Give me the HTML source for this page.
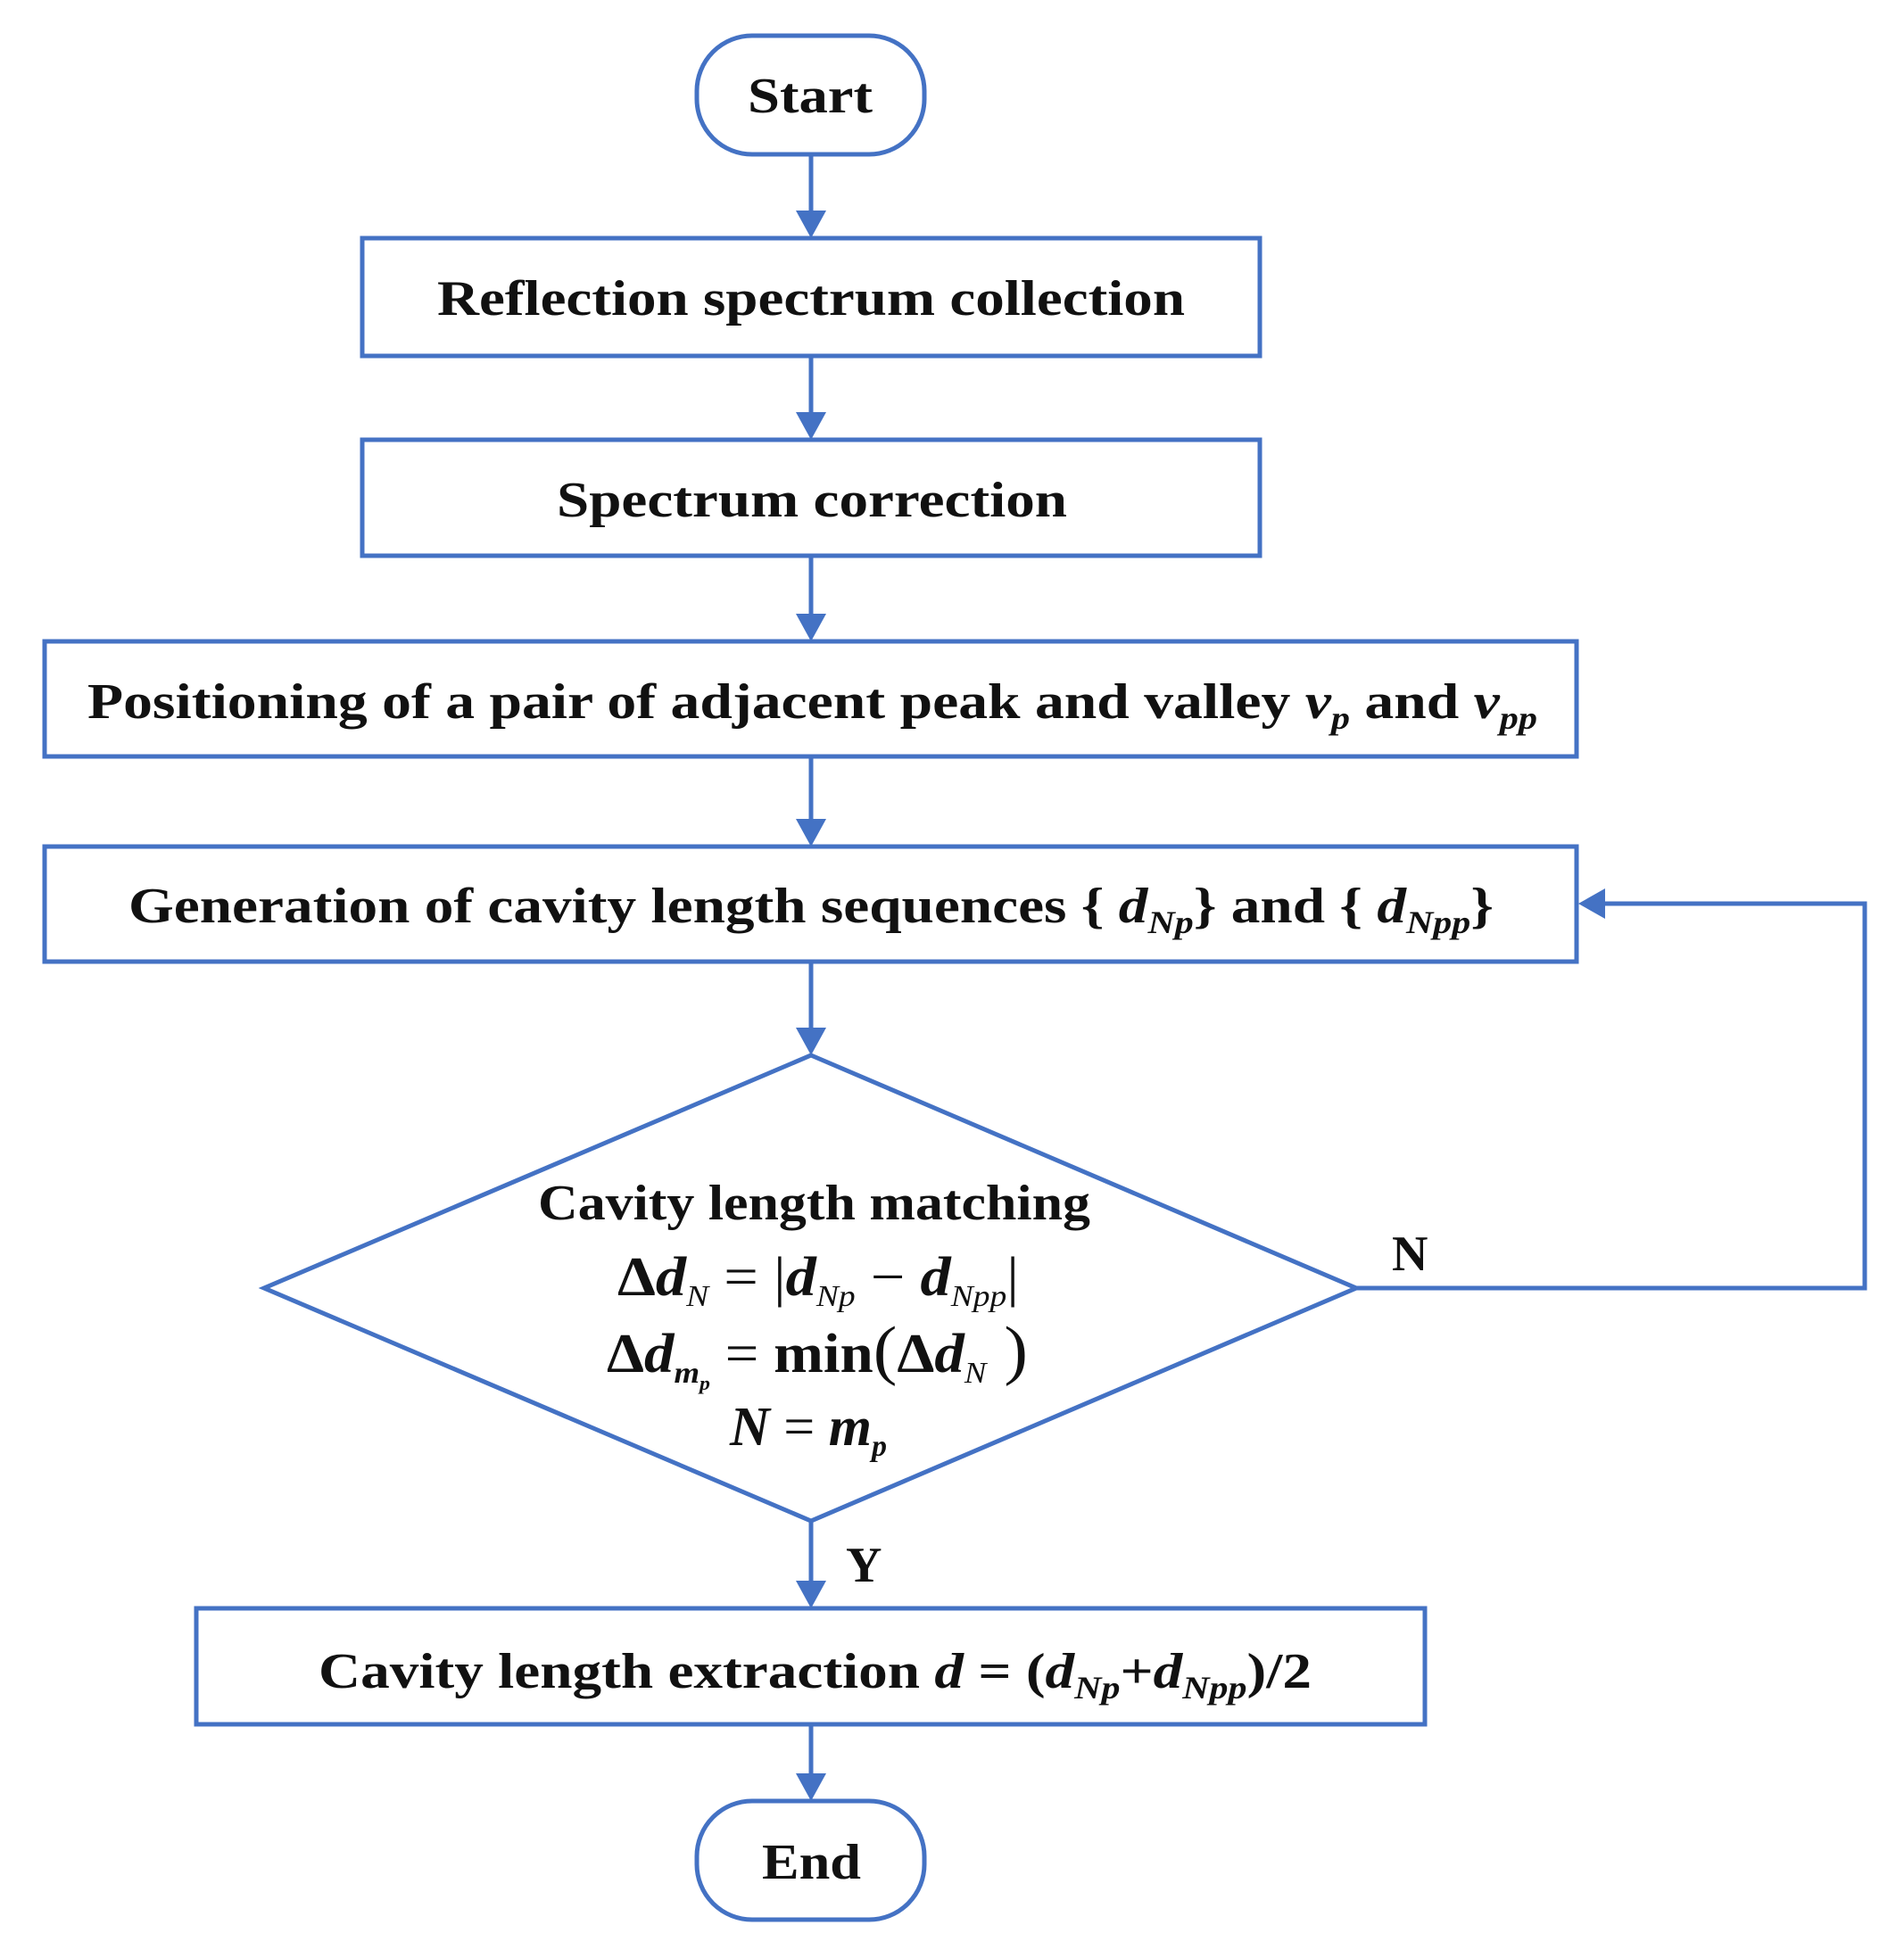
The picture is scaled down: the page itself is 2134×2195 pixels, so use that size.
<!DOCTYPE html>
<html><head><meta charset="utf-8"><style>
html,body{margin:0;padding:0;background:#fff;}
svg{display:block;}
text{font-family:"Liberation Serif",serif;font-weight:bold;fill:#111;}
</style></head><body>
<svg width="2134" height="2195" viewBox="0 0 2134 2195" xmlns="http://www.w3.org/2000/svg">
<g fill="none" stroke="#4472C4" stroke-width="5">
<rect x="781" y="40" width="255" height="133" rx="62"/>
<rect x="406" y="267" width="1006" height="132"/>
<rect x="406" y="493" width="1006" height="130"/>
<rect x="50" y="719" width="1717" height="129"/>
<rect x="50" y="949" width="1717" height="129"/>
<polygon points="909,1183 1520,1444 909,1705 296,1444"/>
<rect x="220" y="1803" width="1377" height="130"/>
<rect x="781" y="2019" width="255" height="133" rx="62"/>
<line x1="909" y1="173" x2="909" y2="240"/>
<line x1="909" y1="399" x2="909" y2="466"/>
<line x1="909" y1="623" x2="909" y2="692"/>
<line x1="909" y1="848" x2="909" y2="922"/>
<line x1="909" y1="1078" x2="909" y2="1156"/>
<line x1="909" y1="1705" x2="909" y2="1776"/>
<line x1="909" y1="1933" x2="909" y2="1992"/>
<polyline points="1520,1444 2090,1444 2090,1013 1795,1013"/>
</g>
<g fill="#4472C4">
<polygon points="892,236 926,236 909,267"/>
<polygon points="892,462 926,462 909,493"/>
<polygon points="892,688 926,688 909,719"/>
<polygon points="892,918 926,918 909,949"/>
<polygon points="892,1152 926,1152 909,1183"/>
<polygon points="892,1772 926,1772 909,1803"/>
<polygon points="892,1988 926,1988 909,2019"/>
<polygon points="1799,996 1799,1030 1769,1013"/>
</g>
<g font-size="56">
<text x="838" y="126" textLength="140" lengthAdjust="spacingAndGlyphs">Start</text>
<text x="490" y="353" textLength="838" lengthAdjust="spacingAndGlyphs">Reflection spectrum collection</text>
<text x="624" y="579" textLength="572" lengthAdjust="spacingAndGlyphs">Spectrum correction</text>
<text x="98" y="805" textLength="1625" lengthAdjust="spacingAndGlyphs">Positioning of a pair of adjacent peak and valley <tspan font-style="italic">v</tspan><tspan font-style="italic" font-size="36" dy="12">p</tspan><tspan dy="-12"> and  </tspan><tspan font-style="italic">v</tspan><tspan font-style="italic" font-size="36" dy="12">pp</tspan></text>
<text x="144" y="1034" textLength="1530" lengthAdjust="spacingAndGlyphs">Generation of cavity length sequences { <tspan font-style="italic">d</tspan><tspan font-style="italic" font-size="36" dy="12">Np</tspan><tspan dy="-12">} and { </tspan><tspan font-style="italic">d</tspan><tspan font-style="italic" font-size="36" dy="12">Npp</tspan><tspan dy="-12">}</tspan></text>
<text x="603" y="1367" textLength="619" lengthAdjust="spacingAndGlyphs">Cavity length matching</text>
<text x="692" y="1452" font-size="62" textLength="450" lengthAdjust="spacingAndGlyphs">Δ<tspan font-style="italic">d</tspan><tspan font-style="italic" font-size="34" font-weight="normal" dy="12">N</tspan><tspan dy="-12" font-weight="normal"> = </tspan><tspan font-weight="normal">|</tspan><tspan font-style="italic">d</tspan><tspan font-style="italic" font-size="34" font-weight="normal" dy="12">Np</tspan><tspan dy="-12" font-weight="normal"> − </tspan><tspan font-style="italic">d</tspan><tspan font-style="italic" font-size="34" font-weight="normal" dy="12">Npp</tspan><tspan dy="-12" font-weight="normal">|</tspan></text>
<text x="680" y="1538" font-size="62" textLength="472" lengthAdjust="spacingAndGlyphs">Δ<tspan font-style="italic">d</tspan><tspan font-style="italic" font-size="34" dy="12">m</tspan><tspan font-style="italic" font-size="22" dy="8">p</tspan><tspan dy="-20" font-weight="normal"> = </tspan>min<tspan font-weight="normal" font-size="74">(</tspan>Δ<tspan font-style="italic">d</tspan><tspan font-style="italic" font-size="34" font-weight="normal" dy="12">N</tspan><tspan dy="-12" font-weight="normal" font-size="74"> )</tspan></text>
<text x="818" y="1620" font-size="62"><tspan font-style="italic">N</tspan><tspan font-weight="normal"> = </tspan><tspan font-style="italic">m</tspan><tspan font-style="italic" font-size="34" dy="12">p</tspan></text>
<text x="1560" y="1424">N</text>
<text x="948" y="1773">Y</text>
<text x="357" y="1892" textLength="1113" lengthAdjust="spacingAndGlyphs">Cavity length extraction <tspan font-style="italic">d</tspan> = (<tspan font-style="italic">d</tspan><tspan font-style="italic" font-size="36" dy="12">Np</tspan><tspan dy="-12">+</tspan><tspan font-style="italic">d</tspan><tspan font-style="italic" font-size="36" dy="12">Npp</tspan><tspan dy="-12">)/2</tspan></text>
<text x="854" y="2106" textLength="111" lengthAdjust="spacingAndGlyphs">End</text>
</g>
</svg>
</body></html>
